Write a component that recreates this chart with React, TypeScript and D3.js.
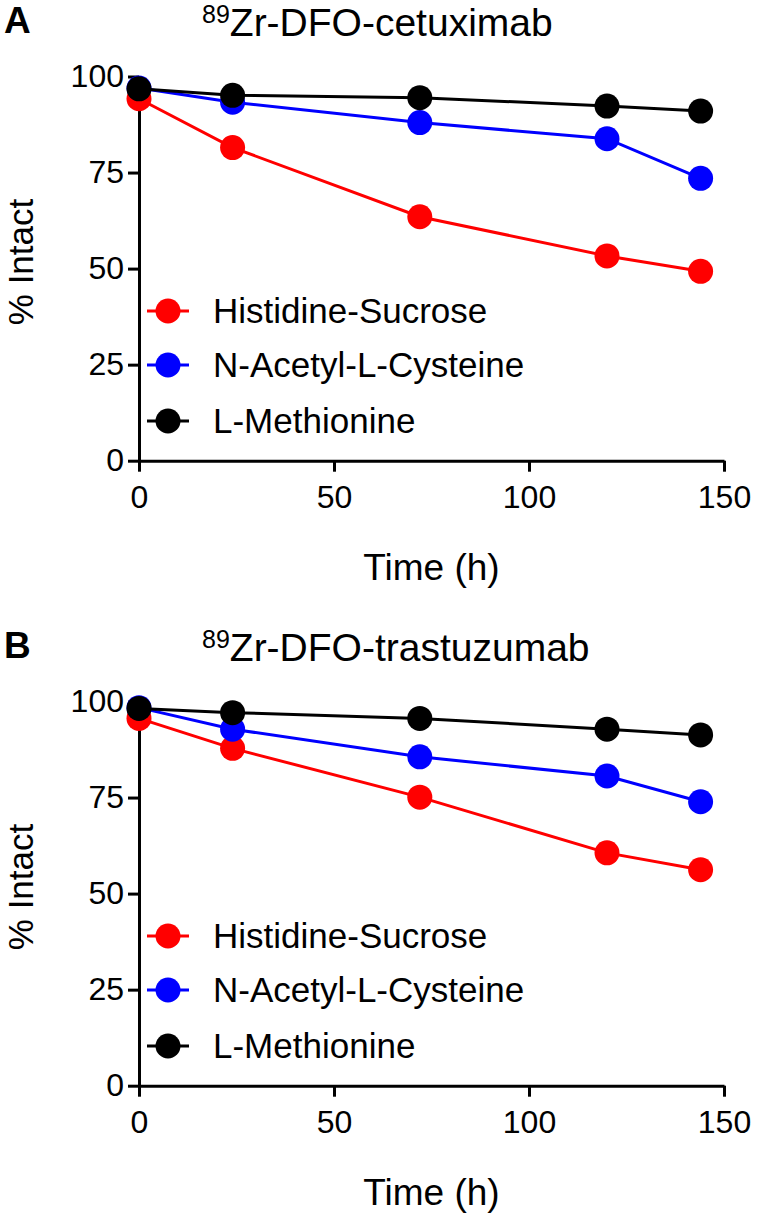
import * as d3 from "d3";
import React, { useEffect, useRef } from "react";

// sampling times (h)
const times = [0, 24, 72, 120, 144];
const seriesNames = ["Histidine-Sucrose", "N-Acetyl-L-Cysteine", "L-Methionine"];
const seriesColors = ["#ff0000", "#0000ff", "#000000"];

// % intact, panel A
const cetuximabHistidine = [94.2, 81.5, 63.5, 53.3, 49.3];
const cetuximabNac = [97.0, 93.3, 88.0, 83.8, 73.5];
const cetuximabMet = [96.8, 95.1, 94.5, 92.3, 91.0];

// % intact, panel B
const trastuzumabHistidine = [95.6, 87.8, 75.1, 60.6, 56.2];
const trastuzumabNac = [98.4, 92.8, 85.6, 80.6, 73.9];
const trastuzumabMet = [98.2, 97.1, 95.6, 92.8, 91.3];

const xTicks = [0, 50, 100, 150];
const yTicks = [0, 25, 50, 75, 100];

const panels = [
  { letter: "A", drug: "Zr-DFO-cetuximab", values: [cetuximabHistidine, cetuximabNac, cetuximabMet] },
  { letter: "B", drug: "Zr-DFO-trastuzumab", values: [trastuzumabHistidine, trastuzumabNac, trastuzumabMet] },
];

const FONT = "'Liberation Sans', Arial, sans-serif";
const W = 757;
const H = 1216;
const PANEL_STEP = 625;
const plot = { left: 139, right: 724, top: 76.5, bottom: 460.7 };
const legendRows = [311, 365, 421];

export default function App() {
  const svgRef = useRef<SVGSVGElement>(null);

  useEffect(() => {
    const svg = d3.select(svgRef.current);
    svg.selectAll("*").remove();

    const x = d3.scaleLinear().domain([0, 150]).range([plot.left, plot.right]);
    const y = d3.scaleLinear().domain([0, 100]).range([plot.bottom, plot.top]);

    panels.forEach((p, i) => {
      const g = svg.append("g").attr("transform", `translate(0,${i * PANEL_STEP})`);

      // panel letter + title
      g.append("text")
        .attr("x", 4)
        .attr("y", 33)
        .attr("font-family", FONT)
        .attr("font-weight", "bold")
        .attr("font-size", 37)
        .text(p.letter);

      const title = g.append("text")
        .attr("x", 202)
        .attr("y", 36)
        .attr("font-family", FONT)
        .attr("font-size", 39);
      title.append("tspan").attr("font-size", 25).attr("dy", -13).text("89");
      title.append("tspan").attr("dy", 13).text(p.drug);

      // axes
      const yAxis = g.append("g")
        .attr("transform", `translate(${plot.left},0)`)
        .call(d3.axisLeft(y).tickValues(yTicks).tickSize(11).tickSizeOuter(0).tickPadding(4));
      const xAxis = g.append("g")
        .attr("transform", `translate(0,${plot.bottom})`)
        .call(d3.axisBottom(x).tickValues(xTicks).tickSize(11).tickSizeOuter(0).tickPadding(14));

      [yAxis, xAxis].forEach(a => {
        a.select(".domain").attr("stroke", "#000").attr("stroke-width", 3);
        a.selectAll(".tick line").attr("stroke", "#000").attr("stroke-width", 3);
        a.selectAll(".tick text")
          .attr("fill", "#000")
          .attr("font-family", FONT)
          .attr("font-size", 32);
      });

      g.append("text")
        .attr("x", (plot.left + plot.right) / 2)
        .attr("y", 580)
        .attr("text-anchor", "middle")
        .attr("font-family", FONT)
        .attr("font-size", 37)
        .text("Time (h)");

      g.append("text")
        .attr("transform", `translate(33,262) rotate(-90)`)
        .attr("text-anchor", "middle")
        .attr("font-family", FONT)
        .attr("font-size", 35)
        .text("% Intact");

      // series: red, blue, black (black on top)
      const line = d3.line<number>()
        .x((_, j) => x(times[j]))
        .y(d => y(d));

      p.values.forEach((vals, s) => {
        g.append("path")
          .datum(vals)
          .attr("d", line)
          .attr("fill", "none")
          .attr("stroke", seriesColors[s])
          .attr("stroke-width", 3);
        g.selectAll(`.dot${s}`)
          .data(vals)
          .enter()
          .append("circle")
          .attr("class", `dot${s}`)
          .attr("cx", (_, j) => x(times[j]))
          .attr("cy", d => y(d))
          .attr("r", 12.5)
          .attr("fill", seriesColors[s]);
      });

      // legend
      seriesNames.forEach((name, s) => {
        const ly = legendRows[s];
        g.append("line")
          .attr("x1", 147).attr("x2", 189)
          .attr("y1", ly).attr("y2", ly)
          .attr("stroke", seriesColors[s])
          .attr("stroke-width", 3);
        g.append("circle")
          .attr("cx", 168).attr("cy", ly).attr("r", 12.5)
          .attr("fill", seriesColors[s]);
        g.append("text")
          .attr("x", 213)
          .attr("y", ly + 12)
          .attr("font-family", FONT)
          .attr("font-size", 35)
          .text(name);
      });
    });
  }, []);

  return (
    <div style={{ position: "absolute", left: 0, top: 0, background: "#fff" }}>
      <svg ref={svgRef} width={W} height={H} style={{ display: "block" }} />
    </div>
  );
}
